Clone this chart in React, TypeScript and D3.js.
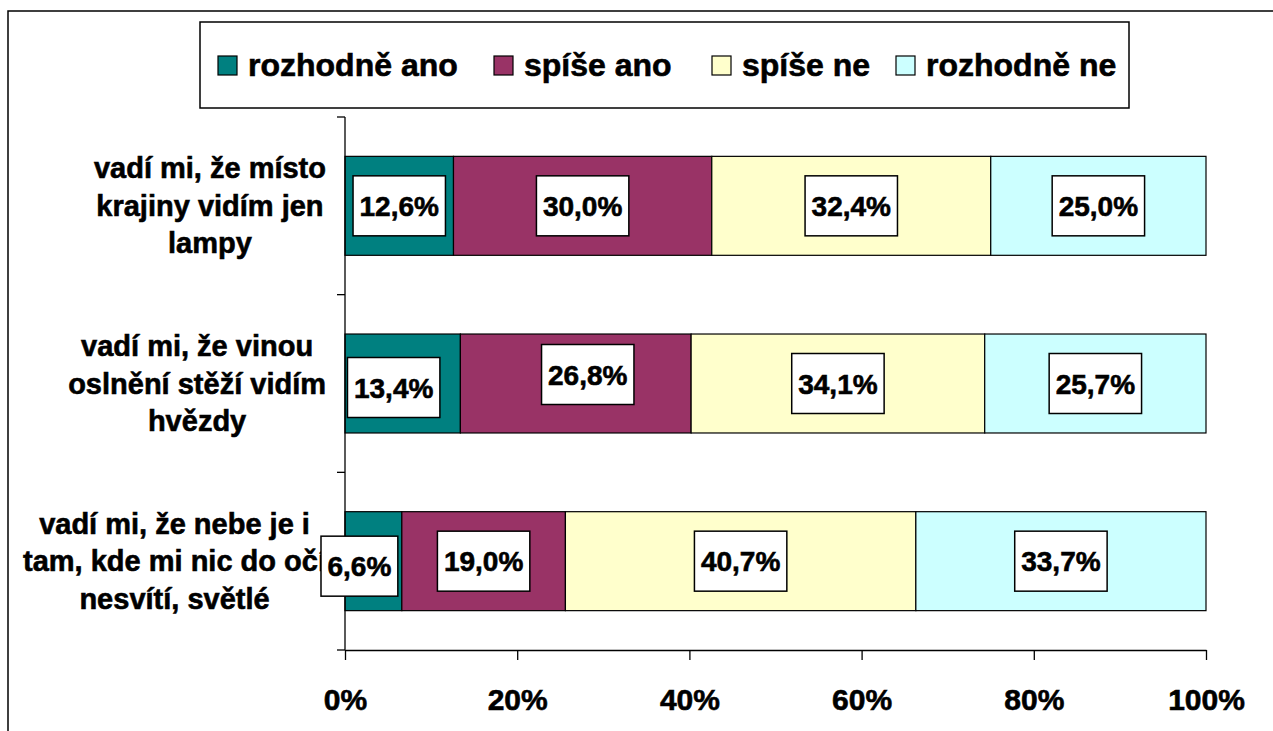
import React, { useEffect, useRef } from "react";
import * as d3 from "d3";

// category labels, already broken into lines like in the original
const categories = [
  ["vadí mi, že místo", "krajiny vidím jen", "lampy"],
  ["vadí mi, že vinou", "oslnění stěží vidím", "hvězdy"],
  ["vadí mi, že nebe je i", "tam, kde mi nic do očí", "nesvítí, světlé"],
];
const seriesNames = ["rozhodně ano", "spíše ano", "spíše ne", "rozhodně ne"];
const seriesColors = ["#008080", "#993366", "#FFFFCC", "#CCFFFF"];
const rozhodneAno = [12.6, 13.4, 6.6];
const spiseAno = [30.0, 26.8, 19.0];
const spiseNe = [32.4, 34.1, 40.7];
const rozhodneNe = [25.0, 25.7, 33.7];
const xTicks = [0, 20, 40, 60, 80, 100];

const FONT = "'Liberation Sans', Arial, sans-serif";

const App = () => {
  const ref = useRef<SVGSVGElement>(null);

  useEffect(() => {
    const width = 1273,
      height = 731;
    const svg = d3.select(ref.current);
    svg.selectAll("*").remove();
    svg.attr("width", width).attr("height", height);

    const rows = categories.map((c, i) => ({
      [seriesNames[0]]: rozhodneAno[i],
      [seriesNames[1]]: spiseAno[i],
      [seriesNames[2]]: spiseNe[i],
      [seriesNames[3]]: rozhodneNe[i],
    }));
    const stacked = d3.stack<any>().keys(seriesNames)(rows);

    const color = d3.scaleOrdinal<string, string>().domain(seriesNames).range(seriesColors);

    const xScale = d3.scaleLinear().domain([0, 100]).range([345, 1206]);
    const yScale = d3
      .scaleBand<number>()
      .domain(d3.range(categories.length))
      .range([117, 650])
      .paddingInner(0.443)
      .paddingOuter(0.2215);

    // bold text in the original is heavier than Liberation Sans Bold
    const heavy = (sel: any) =>
      sel
        .style("font-family", FONT)
        .style("font-weight", "bold")
        .attr("fill", "black")
        .attr("stroke", "black")
        .attr("stroke-width", 0.6);

    // outer frame (cut off at the right and bottom)
    svg
      .append("path")
      .attr("d", `M8,${height}V11H${width}`)
      .attr("fill", "none")
      .attr("stroke", "black")
      .attr("stroke-width", 1.5);

    // category labels, each block centred lines, block right-aligned near the axis
    categories.forEach((lines, i) => {
      const cy = yScale(i)! + yScale.bandwidth() / 2;
      const g = svg.append("g");
      const texts = g
        .selectAll("text")
        .data(lines)
        .enter()
        .append("text")
        .attr("y", (d, j) => cy + 10 + (j - 1) * 37.5)
        .attr("text-anchor", "middle")
        .style("font-size", "29px")
        .call(heavy)
        .text((d) => d);
      let maxW = 0;
      texts.each(function () {
        maxW = Math.max(maxW, (this as SVGTextElement).getComputedTextLength());
      });
      texts.attr("x", 326 - maxW / 2);
    });

    // bars
    svg
      .append("g")
      .selectAll("g")
      .data(stacked)
      .enter()
      .append("g")
      .attr("fill", (s) => color(s.key))
      .selectAll("rect")
      .data((s) => s)
      .enter()
      .append("rect")
      .attr("x", (d) => xScale(d[0]))
      .attr("y", (d, i) => yScale(i)!)
      .attr("width", (d) => xScale(d[1]) - xScale(d[0]))
      .attr("height", yScale.bandwidth())
      .attr("stroke", "black")
      .attr("stroke-width", 1.2);

    // y axis with ticks at the category boundaries
    const y0 = yScale.range()[0];
    const step = yScale.step();
    const yAxis = svg.append("g").attr("stroke", "black").attr("stroke-width", 1.3);
    yAxis
      .append("line")
      .attr("x1", 345)
      .attr("x2", 345)
      .attr("y1", y0)
      .attr("y2", 650);
    yAxis
      .selectAll(".ytick")
      .data(d3.range(categories.length + 1))
      .enter()
      .append("line")
      .attr("x1", 337)
      .attr("x2", 345)
      .attr("y1", (i) => y0 + i * step)
      .attr("y2", (i) => y0 + i * step);

    // x axis
    const xAxis = svg
      .append("g")
      .attr("transform", "translate(0,650)")
      .call(
        d3
          .axisBottom(xScale)
          .tickValues(xTicks)
          .tickSize(10)
          .tickSizeOuter(0)
          .tickPadding(29)
          .tickFormat((d) => `${d}%`)
      );
    xAxis.selectAll("path, line").attr("stroke", "black").attr("stroke-width", 1.3);
    xAxis.selectAll("text").style("font-size", "30px").call(heavy);

    // data labels in white boxes; a few were moved by hand in the original
    const labelNudge: Record<string, [number, number]> = {
      "1-0": [-9, 4],
      "1-1": [12, -9],
      "2-0": [-14, 5],
    };
    const labels = svg.append("g");
    stacked.forEach((s, k) => {
      s.forEach((d, i) => {
        const [dx, dy] = labelNudge[`${i}-${k}`] || [0, 0];
        const cx = (xScale(d[0]) + xScale(d[1])) / 2 + dx;
        const cy = yScale(i)! + yScale.bandwidth() / 2 + dy;
        const g = labels.append("g");
        const rect = g.append("rect");
        const t = g
          .append("text")
          .attr("x", cx)
          .attr("y", cy + 10)
          .attr("text-anchor", "middle")
          .style("font-size", "28px")
          .call(heavy)
          .text(`${d3.format(".1f")(d[1] - d[0]).replace(".", ",")}%`);
        const w = (t.node() as SVGTextElement).getComputedTextLength() + 13;
        rect
          .attr("x", cx - w / 2)
          .attr("y", cy - 30)
          .attr("width", w)
          .attr("height", 60)
          .attr("fill", "white")
          .attr("stroke", "black")
          .attr("stroke-width", 1.5);
      });
    });

    // legend
    const legend = svg.append("g");
    legend
      .append("rect")
      .attr("x", 200)
      .attr("y", 22)
      .attr("width", 929)
      .attr("height", 86)
      .attr("fill", "white")
      .attr("stroke", "black")
      .attr("stroke-width", 1.5);
    const legendX = [218, 494, 712, 896];
    seriesNames.forEach((name, i) => {
      legend
        .append("rect")
        .attr("x", legendX[i])
        .attr("y", 56)
        .attr("width", 19)
        .attr("height", 19)
        .attr("fill", color(name))
        .attr("stroke", "black")
        .attr("stroke-width", 1.2);
      legend
        .append("text")
        .attr("x", legendX[i] + 30)
        .attr("y", 76)
        .style("font-size", "32px")
        .call(heavy)
        .text(name);
    });
  }, []);

  return (
    <svg
      ref={ref}
      style={{ position: "absolute", left: 0, top: 0, display: "block", background: "white" }}
    ></svg>
  );
};

export default App;
